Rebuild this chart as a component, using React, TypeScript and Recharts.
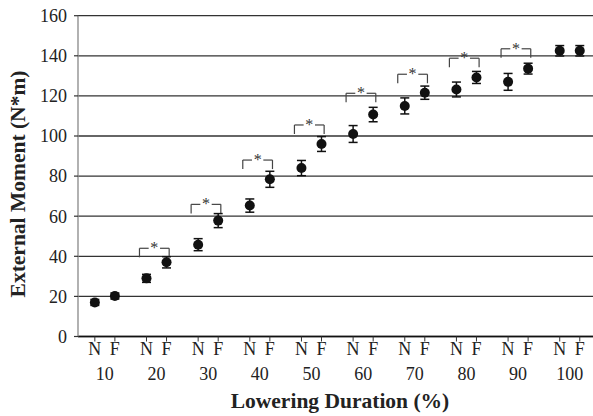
import React from 'react';
import { ScatterChart, Scatter, XAxis, YAxis, CartesianGrid, ErrorBar, ReferenceLine, Label } from 'recharts';

const groups = [10, 20, 30, 40, 50, 60, 70, 80, 90, 100];
const nMeans = [17.0, 29.0, 45.8, 65.3, 84.0, 101.0, 115.0, 123.2, 127.0, 142.5];
const nErrors = [1.5, 2.0, 3.0, 3.3, 3.8, 4.2, 4.0, 3.7, 4.2, 2.6];
const fMeans = [20.2, 37.0, 57.8, 78.4, 96.0, 110.7, 121.6, 129.2, 133.6, 142.5];
const fErrors = [1.5, 2.8, 3.5, 4.0, 3.7, 3.6, 3.3, 3.0, 2.7, 2.6];
const sigGroups = [20, 30, 40, 50, 60, 70, 80, 90];
const bracketLevels = [44.0, 65.9, 88.0, 105.5, 121.3, 130.8, 138.8, 143.5];
const yTicks = [0, 20, 40, 60, 80, 100, 120, 140, 160];
const subLabels = ['N', 'F'];

const OFF = 1.94; // half gap between N and F within a group (x units)
const FONT = '"Liberation Serif", "Times New Roman", serif';

const nData = groups.map((g, i) => ({ x: g - OFF, y: nMeans[i], err: nErrors[i] }));
const fData = groups.map((g, i) => ({ x: g + OFF, y: fMeans[i], err: fErrors[i] }));
const nfTicks = groups.flatMap((g) => [g - OFF, g + OFF]);
const starData = sigGroups.map((g, i) => ({ x: g - 0.42, y: bracketLevels[i] }));

const LEG = 4.5;
const bracketSegments = sigGroups.flatMap((g, i) => {
  const L = bracketLevels[i];
  const x1 = g - 3.3;
  const x2 = g + 2.45;
  const c = g - 0.42;
  return [
    [{ x: x1, y: L - LEG }, { x: x1, y: L }],
    [{ x: x1, y: L }, { x: c - 1.1, y: L }],
    [{ x: c + 1.1, y: L }, { x: x2, y: L }],
    [{ x: x2, y: L }, { x: x2, y: L - LEG }],
  ];
});

const Star = (props: any) => {
  const { cx, cy } = props;
  return (
    <text x={cx} y={cy + 4.8} textAnchor="middle" fontSize={16} fontFamily={FONT} fill="#333">
      *
    </text>
  );
};

const Dot = (props: any) => {
  const { cx, cy } = props;
  return <circle cx={cx} cy={cy} r={5} fill="#111" />;
};

const YTitle = () => (
  <text
    x={18}
    y={184}
    transform="rotate(-90 18 184)"
    textAnchor="middle"
    dominantBaseline="central"
    fontSize={21.5}
    fontWeight="bold"
    fontFamily={FONT}
    fill="#222"
  >
    External Moment (N*m)
  </text>
);

const XTitle = () => (
  <text x={340} y={408.3} textAnchor="middle" fontSize={21.5} fontWeight="bold" fontFamily={FONT} fill="#222">
    Lowering Duration (%)
  </text>
);

export default function App() {
  return (
    <div style={{ position: 'absolute', left: 0, top: 0, width: 593, height: 416, background: '#fff' }}>
      <ScatterChart width={593} height={416} margin={{ top: 15.7, right: 0, bottom: 0, left: 0 }}>
        <CartesianGrid vertical={false} stroke="#333" strokeWidth={1.3} yAxisId="y" xAxisId="a" />
        <XAxis
          xAxisId="a"
          type="number"
          dataKey="x"
          domain={[4.8, 104.5]}
          allowDataOverflow
          ticks={nfTicks}
          interval={0}
          tickFormatter={(_v: number, i: number) => subLabels[i % 2]}
          height={30}
          tickSize={5}
          tickMargin={1}
          axisLine={{ stroke: '#111', strokeWidth: 1.3 }}
          tickLine={{ stroke: '#333', strokeWidth: 1 }}
          tick={{ fontSize: 18, fontFamily: FONT, fill: '#222' }}
        />
        <XAxis
          xAxisId="b"
          type="number"
          dataKey="x"
          domain={[4.8, 104.5]}
          allowDataOverflow
          ticks={groups}
          interval={0}
          tickFormatter={(v: number) => String(v)}
          height={49.5}
          tickSize={0}
          tickMargin={1}
          axisLine={false}
          tickLine={false}
          tick={{ fontSize: 18, fontFamily: FONT, fill: '#222' }}
        >
          <Label content={XTitle} />
        </XAxis>
        <YAxis
          yAxisId="y"
          type="number"
          dataKey="y"
          domain={[0, 160]}
          allowDataOverflow
          ticks={yTicks}
          interval={0}
          width={78}
          tickSize={4}
          tickMargin={7}
          axisLine={{ stroke: '#888', strokeWidth: 1.3 }}
          tickLine={{ stroke: '#333', strokeWidth: 1.2 }}
          tick={{ fontSize: 18, fontFamily: FONT, fill: '#222' }}
        >
          <Label content={YTitle} />
        </YAxis>
        {bracketSegments.map((seg, i) => (
          <ReferenceLine
            key={i}
            xAxisId="a"
            yAxisId="y"
            segment={seg}
            stroke="#444"
            strokeWidth={1.2}
          />
        ))}
        <Scatter
          name="N"
          data={nData}
          xAxisId="a"
          yAxisId="y"
          fill="#111"
          shape={Dot}
          isAnimationActive={false}
        >
          <ErrorBar dataKey="err" direction="y" width={4.5} stroke="#111" strokeWidth={1.5} isAnimationActive={false} />
        </Scatter>
        <Scatter
          name="F"
          data={fData}
          xAxisId="a"
          yAxisId="y"
          fill="#111"
          shape={Dot}
          isAnimationActive={false}
        >
          <ErrorBar dataKey="err" direction="y" width={4.5} stroke="#111" strokeWidth={1.5} isAnimationActive={false} />
        </Scatter>
        <Scatter data={starData} xAxisId="a" yAxisId="y" shape={Star} isAnimationActive={false} />
      </ScatterChart>
    </div>
  );
}
